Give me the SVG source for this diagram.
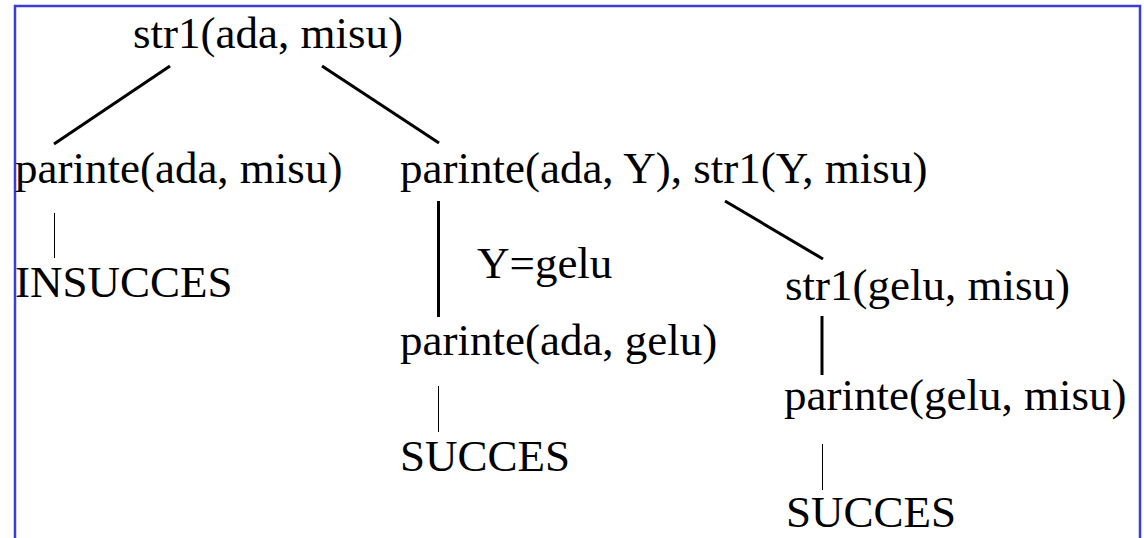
<svg xmlns="http://www.w3.org/2000/svg" width="1144" height="538" viewBox="0 0 1144 538">
  <style>
    .thick { stroke: #000; stroke-width: 3; fill: none; }
    .thin { stroke: #000; stroke-width: 1; fill: none; }
    .frame { stroke: #3c3cd8; stroke-width: 2.5; fill: none; }
  </style>
  <rect x="0" y="0" width="1144" height="538" fill="#fff"/>
  <!-- open frame: top, left and right edges -->
  <path class="frame" d="M15,540 V6 H1140 V540"/>

  <g id="connectors">
    <line class="thick" x1="170" y1="66" x2="54" y2="144"/>
    <line class="thick" x1="322" y1="66" x2="439" y2="143"/>
    <line class="thin" x1="54.5" y1="213" x2="54.5" y2="258"/>
    <line class="thick" x1="438.5" y1="201" x2="438.5" y2="317"/>
    <line class="thin" x1="438.5" y1="386" x2="438.5" y2="432"/>
    <line class="thick" x1="725" y1="201" x2="823" y2="259"/>
    <line class="thick" x1="822" y1="316" x2="822" y2="375"/>
    <line class="thin" x1="822.5" y1="444" x2="822.5" y2="490"/>
  </g>

  <g font-family="Liberation Serif, Times New Roman, serif" font-size="45" fill="#000">
    <g id="root"><text x="133" y="48">str1(ada, misu)</text></g>
    <g id="goal-left"><text x="15" y="183">parinte(ada, misu)</text></g>
    <g id="fail-left"><text x="15" y="297">INSUCCES</text></g>
    <g id="goal-right"><text x="400" y="183">parinte(ada, Y), str1(Y, misu)</text></g>
    <g id="binding"><text x="477" y="278">Y=gelu</text></g>
    <g id="goal-mid"><text x="400" y="355">parinte(ada, gelu)</text></g>
    <g id="success-mid"><text x="400" y="471">SUCCES</text></g>
    <g id="goal-str1"><text x="785" y="300">str1(gelu, misu)</text></g>
    <g id="goal-parent"><text x="784" y="410">parinte(gelu, misu)</text></g>
    <g id="success-right"><text x="786" y="527">SUCCES</text></g>
  </g>
</svg>
